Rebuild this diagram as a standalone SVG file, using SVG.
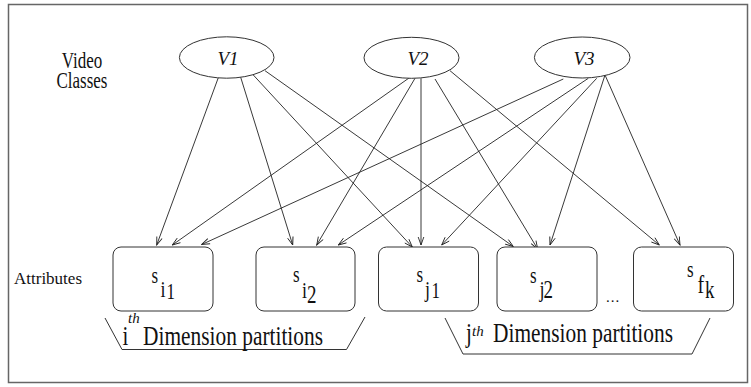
<svg xmlns="http://www.w3.org/2000/svg" width="751" height="387" viewBox="0 0 751 387">
<defs>
<marker id="ah" markerWidth="10" markerHeight="8" refX="9" refY="4" orient="auto" markerUnits="userSpaceOnUse">
<path d="M1,1.2 L9,4 L1,6.8" fill="none" stroke="#222" stroke-width="0.9"/>
</marker>
<style>
text{font-family:"Liberation Serif","DejaVu Serif","Times New Roman",serif;fill:#111}
.it{font-style:italic}
.node{fill:#fff;stroke:#333;stroke-width:1}
.edge{stroke:#222;stroke-width:0.9;fill:none;marker-end:url(#ah)}
.br{fill:none;stroke:#333;stroke-width:1}
</style>
</defs>
<rect x="8.5" y="4.5" width="739" height="378" fill="#fff" stroke="#666" stroke-width="1.5"/>
<text x="82" y="68" font-size="17" text-anchor="middle" transform="matrix(1 0 0 1.3 0 -20.4)">Video</text>
<text x="82" y="88" font-size="17" text-anchor="middle" transform="matrix(1 0 0 1.3 0 -26.4)">Classes</text>
<text x="14" y="284" font-size="17">Attributes</text>
<g id="connectors">
<line class="edge" x1="218.3" y1="77.7" x2="156.7" y2="245"/>
<line class="edge" x1="240.7" y1="77.3" x2="292.7" y2="245"/>
<line class="edge" x1="253.3" y1="75" x2="412.3" y2="247"/>
<line class="edge" x1="265" y1="70.7" x2="513.3" y2="246.5"/>
<line class="edge" x1="410" y1="77.3" x2="172.3" y2="245"/>
<line class="edge" x1="415" y1="78.3" x2="316.7" y2="245"/>
<line class="edge" x1="421" y1="78.3" x2="421" y2="245"/>
<line class="edge" x1="435" y1="79" x2="537.7" y2="249"/>
<line class="edge" x1="450" y1="70.7" x2="659.3" y2="245"/>
<line class="edge" x1="563.3" y1="79" x2="201.7" y2="244.5"/>
<line class="edge" x1="588.3" y1="78.3" x2="338.3" y2="245"/>
<line class="edge" x1="596.7" y1="78.3" x2="441.7" y2="245"/>
<line class="edge" x1="605" y1="75" x2="550" y2="245"/>
<line class="edge" x1="605" y1="75" x2="680" y2="245"/>
</g>
<g id="V1"><ellipse class="node" cx="226.7" cy="57.5" rx="47.3" ry="20.7"/><text class="it" x="228" y="65" font-size="19" text-anchor="middle">V1</text></g>
<g id="V2"><ellipse class="node" cx="411.5" cy="57.8" rx="47.5" ry="20.5"/><text class="it" x="418" y="65" font-size="19" text-anchor="middle">V2</text></g>
<g id="V3"><ellipse class="node" cx="582.2" cy="57.5" rx="47.8" ry="20.5"/><text class="it" x="584" y="65" font-size="19" text-anchor="middle">V3</text></g>
<g id="si1"><rect class="node" x="113" y="247" width="100" height="64" rx="8"/>
<text font-size="17" transform="matrix(1 0 0 1.3 0 -87)"><tspan x="151.5" y="284.6">s</tspan><tspan x="160.5" y="295.4" font-size="18">i</tspan><tspan x="166.5" y="296.9">1</tspan></text></g>
<g id="si2"><rect class="node" x="256" y="247" width="99" height="64" rx="8"/>
<text font-size="17" transform="matrix(1 0 0 1.3 0 -87)"><tspan x="293" y="283.8">s</tspan><tspan x="302" y="296.2" font-size="18">i</tspan><tspan x="307" y="300" font-size="19">2</tspan></text></g>
<g id="sj1"><rect class="node" x="378.5" y="247" width="100" height="64" rx="8"/>
<text font-size="17" transform="matrix(1 0 0 1.3 0 -87)"><tspan x="416.5" y="283.8">s</tspan><tspan x="425" y="295.4" font-size="18">j</tspan><tspan x="431.5" y="296.5">1</tspan></text></g>
<g id="sj2"><rect class="node" x="497" y="247" width="100" height="64" rx="8"/>
<text font-size="17" transform="matrix(1 0 0 1.3 0 -87)"><tspan x="530" y="284.6">s</tspan><tspan x="539.5" y="295.4" font-size="18">j</tspan><tspan x="543.5" y="296.2" font-size="19">2</tspan></text></g>
<text x="606" y="302" font-size="15" letter-spacing="1">...</text>
<g id="sfk"><rect class="node" x="633.5" y="247" width="100" height="64" rx="8"/>
<text font-size="17" transform="matrix(1 0 0 1.3 0 -87)"><tspan x="687" y="280">s</tspan><tspan x="697.5" y="292.3" font-size="20">f</tspan><tspan x="705" y="296.2" font-size="19">k</tspan></text></g>
<g id="idim">
<polyline class="br" points="105,318 122,349.5 346.5,349.5 365,317"/>
<g transform="matrix(1 0 0 1.35 0 -120.75)">
<text x="122.5" y="345" font-size="21">i</text>
<text x="143" y="345" font-size="21" textLength="180" lengthAdjust="spacingAndGlyphs">Dimension partitions</text>
</g>
<text class="it" x="128" y="322.5" font-size="15">th</text>
</g>
<g id="jdim">
<polyline class="br" points="445,318 463,354 692,354 710,318"/>
<g transform="matrix(1 0 0 1.35 0 -119.7)">
<text x="466" y="342" font-size="21">j</text>
<text x="493" y="342" font-size="21" textLength="180" lengthAdjust="spacingAndGlyphs">Dimension partitions</text>
</g>
<text class="it" x="472" y="336" font-size="15">th</text>
</g>
</svg>
